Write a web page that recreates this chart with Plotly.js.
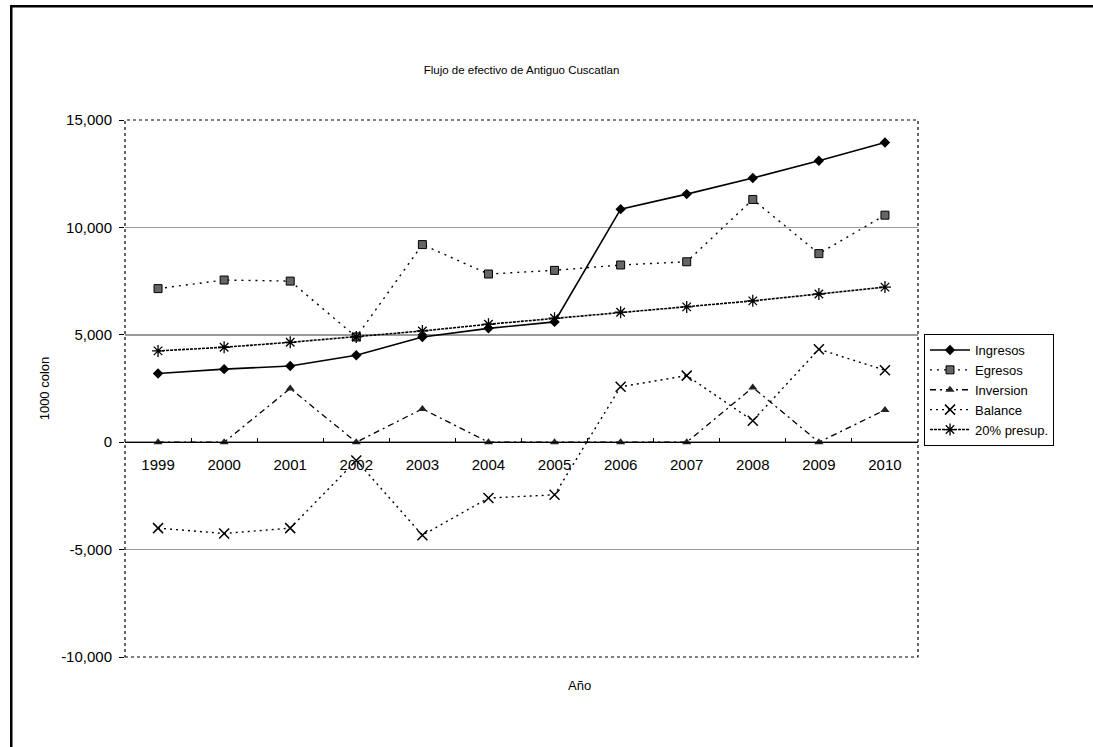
<!DOCTYPE html>
<html>
<head>
<meta charset="utf-8">
<script src="https://cdn.plot.ly/plotly-3.0.1.min.js"></script>
<style>html,body{margin:0;padding:0;background:#fff;overflow:hidden;}#chart{width:1093px;height:747px;}</style>
</head>
<body>
<div id="chart"></div>
<script>
const years = ['1999','2000','2001','2002','2003','2004','2005','2006','2007','2008','2009','2010'];
const ingresos = [3200, 3400, 3550, 4050, 4900, 5300, 5600, 10850, 11550, 12300, 13100, 13950];
const egresos = [7150, 7550, 7500, 4900, 9200, 7830, 8000, 8250, 8400, 11300, 8780, 10570];
const inversion = [0, 0, 2500, 0, 1550, 0, 0, 0, 0, 2550, 0, 1500];
const balance = [-4000, -4250, -4000, -850, -4330, -2600, -2450, 2580, 3100, 1000, 4330, 3350];
const presup20 = [4250, 4420, 4650, 4900, 5180, 5490, 5770, 6050, 6300, 6580, 6900, 7220];
const yTickVals = [-10000, -5000, 0, 5000, 10000, 15000];
const yTickText = ['-10,000', '-5,000', '0', '5,000', '10,000', '15,000'];

const FONT = 'Liberation Sans, Arial, sans-serif';

const traces = [
  {name: 'Ingresos', y: ingresos, line: {color: '#000', width: 1.6, dash: 'solid'},
   marker: {symbol: 'diamond', size: 8, color: '#000'}},
  {name: 'Egresos', y: egresos, line: {color: '#000', width: 1.4, dash: '2px,5px'},
   marker: {symbol: 'square', size: 8, color: '#666', line: {color: '#000', width: 1}}},
  {name: 'Inversion', y: inversion, line: {color: '#000', width: 1.3, dash: '6px,4px,2px,4px'},
   marker: {symbol: 'triangle-up', size: 8, color: '#222'}},
  {name: 'Balance', y: balance, line: {color: '#000', width: 1.4, dash: '2px,4px'},
   marker: {symbol: 'x-thin-open', size: 10, color: '#000', line: {color: '#000', width: 1.5}}},
  {name: '20% presup.', y: presup20, line: {color: '#000', width: 1.6, dash: '3px,1px'},
   marker: {symbol: 'asterisk-open', size: 10, color: '#000', line: {color: '#000', width: 1.3}}}
].map(t => Object.assign({type: 'scatter', mode: 'lines+markers', x: years}, t));

// outer frame (left and top edges) as thin filled bands, in paper units
const px = v => (v - 125) / 793;
const py = v => (657 - v) / 537;

const layout = {
  width: 1093, height: 747,
  margin: {l: 125, r: 175, t: 120, b: 90},
  paper_bgcolor: '#fff', plot_bgcolor: '#fff',
  font: {family: FONT, size: 14, color: '#000'},
  showlegend: true,
  title: {text: 'Flujo de efectivo de Antiguo Cuscatlan', font: {family: FONT, size: 11.5, color: '#000'},
          xref: 'paper', x: 0.5, xanchor: 'center', yref: 'container', y: 1 - 70/747, yanchor: 'middle'},
  xaxis: {
    type: 'category', range: [-0.5, 11.5], anchor: 'free', position: 0.4,
    showline: true, linecolor: '#000', linewidth: 1,
    ticks: 'inside', tickson: 'boundaries', ticklen: 4, tickcolor: '#000',
    showgrid: false, zeroline: false, ticklabelstandoff: 9,
    tickfont: {family: FONT, size: 15, color: '#000'}
  },
  yaxis: {
    range: [-10000, 15000], tickvals: yTickVals, ticktext: yTickText,
    ticks: 'outside', ticklen: 5, tickcolor: '#000', ticklabelstandoff: 4,
    showgrid: true, gridcolor: '#9a9a9a', gridwidth: 1.5,
    zeroline: false, showline: false,
    tickfont: {family: FONT, size: 15, color: '#000'},
    title: {text: '1000 colon', font: {family: FONT, size: 13, color: '#000'}, standoff: 8}
  },
  legend: {
    x: (924 - 125) / 793, xanchor: 'left', y: (657 - 334) / 537, yanchor: 'top',
    bordercolor: '#000', borderwidth: 1, bgcolor: '#fff',
    font: {family: FONT, size: 13, color: '#000'}, itemwidth: 40, tracegroupgap: 0
  },
  annotations: [
    {text: 'Año', xref: 'paper', yref: 'paper', x: (579 - 125) / 793, y: (657 - 686) / 537,
     xanchor: 'center', yanchor: 'middle', showarrow: false,
     font: {family: FONT, size: 13, color: '#000'}}
  ],
  shapes: [
    {type: 'rect', xref: 'paper', yref: 'paper', x0: 0, x1: 1, y0: 0, y1: 1,
     line: {color: '#000', width: 1.2, dash: 'dot'}, layer: 'above'},
    {type: 'rect', xref: 'paper', yref: 'paper', x0: px(10), x1: px(12.5), y0: py(747), y1: py(5),
     fillcolor: '#000', line: {width: 0}},
    {type: 'rect', xref: 'paper', yref: 'paper', x0: px(10), x1: px(1093), y0: py(7.5), y1: py(5),
     fillcolor: '#000', line: {width: 0}}
  ]
};

Plotly.newPlot('chart', traces, layout, {displayModeBar: false, staticPlot: true});
</script>
</body>
</html>
